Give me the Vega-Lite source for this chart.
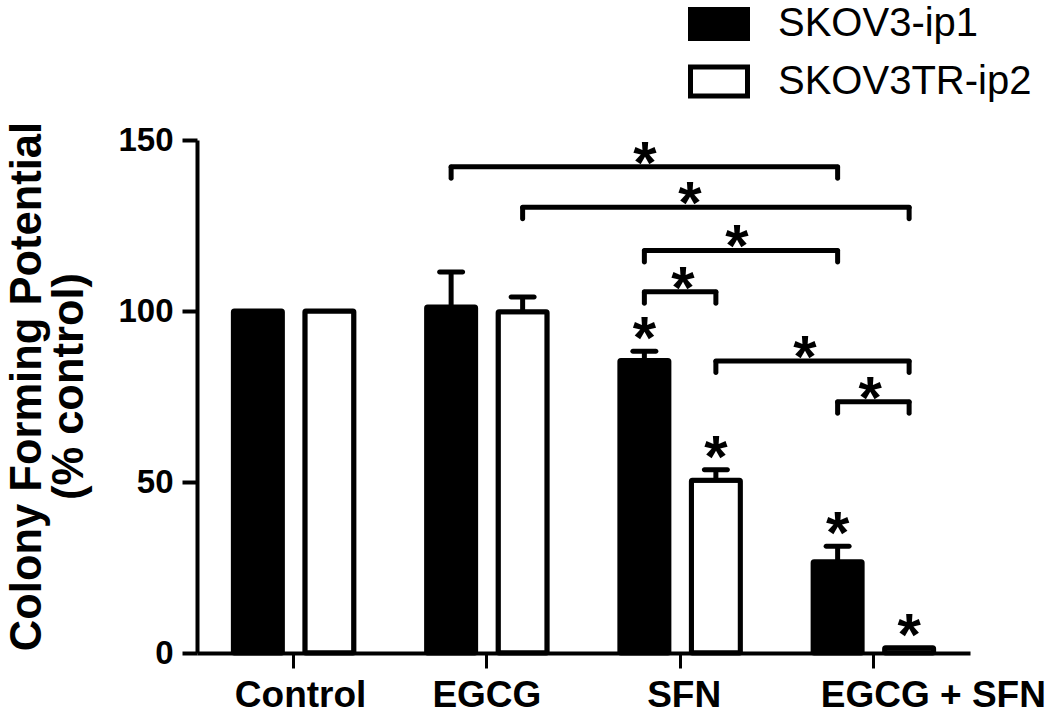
{
  "$schema": "https://vega.github.io/schema/vega-lite/v6.json",
  "width": 773,
  "height": 513,
  "autosize": {"type": "none"},
  "padding": {"left": 197, "top": 140, "right": 80, "bottom": 60},
  "background": "white",
  "config": {
    "view": {"stroke": null},
    "font": "Liberation Sans",
    "axis": {"grid": false}
  },
  "datasets": {
    "bars": [
      {"group": "Control", "series": "SKOV3-ip1", "value": 100, "upper": 100, "star": ""},
      {"group": "Control", "series": "SKOV3TR-ip2", "value": 100, "upper": 100, "star": ""},
      {"group": "EGCG", "series": "SKOV3-ip1", "value": 101.2, "upper": 111.4, "star": ""},
      {"group": "EGCG", "series": "SKOV3TR-ip2", "value": 99.8, "upper": 104.1, "star": ""},
      {"group": "SFN", "series": "SKOV3-ip1", "value": 85.5, "upper": 88.2, "star": "*"},
      {"group": "SFN", "series": "SKOV3TR-ip2", "value": 50.5, "upper": 53.6, "star": "*"},
      {"group": "EGCG + SFN", "series": "SKOV3-ip1", "value": 26.7, "upper": 31.2, "star": "*"},
      {"group": "EGCG + SFN", "series": "SKOV3TR-ip2", "value": 1.5, "upper": 1.5, "star": "*"}
    ],
    "brackets": [
      {"id": 1, "g1": "EGCG", "s1": "SKOV3-ip1", "g2": "EGCG + SFN", "s2": "SKOV3-ip1", "pair": "bb", "level": 142.2, "star_at": "SFN"},
      {"id": 2, "g1": "EGCG", "s1": "SKOV3TR-ip2", "g2": "EGCG + SFN", "s2": "SKOV3TR-ip2", "pair": "ww", "level": 130.3, "star_at": "SFN"},
      {"id": 3, "g1": "SFN", "s1": "SKOV3-ip1", "g2": "EGCG + SFN", "s2": "SKOV3-ip1", "pair": "bb", "level": 117.7, "star_at": "SFN"},
      {"id": 4, "g1": "SFN", "s1": "SKOV3-ip1", "g2": "SFN", "s2": "SKOV3TR-ip2", "pair": "bw", "level": 105.6, "star_at": "SFN"},
      {"id": 5, "g1": "SFN", "s1": "SKOV3TR-ip2", "g2": "EGCG + SFN", "s2": "SKOV3TR-ip2", "pair": "ww", "level": 85.4, "star_at": "EGCG + SFN"},
      {"id": 6, "g1": "EGCG + SFN", "s1": "SKOV3-ip1", "g2": "EGCG + SFN", "s2": "SKOV3TR-ip2", "pair": "bw", "level": 73.5, "star_at": "EGCG + SFN"}
    ]
  },
  "layer": [
    {
      "data": {"name": "bars"},
      "mark": {"type": "bar", "stroke": "black", "strokeWidth": 5, "strokeJoin": "round", "opacity": 1, "cornerRadius": 1},
      "encoding": {
        "x": {
          "field": "group", "type": "nominal", "sort": null,
          "scale": {"domain": ["Control", "EGCG", "SFN", "EGCG + SFN"], "paddingInner": 0, "paddingOuter": 0},
          "axis": {
            "title": null,
            "labelAngle": 0,
            "labelLimit": 500,
            "labelFont": "Liberation Sans", "labelFontSize": 37, "labelFontWeight": "bold", "labelColor": "black",
            "labelPadding": 9,
            "labelOffset": {"condition": [
              {"test": "datum.value === 'EGCG + SFN'", "value": 60},
              {"test": "datum.value === 'Control'", "value": 7},
              {"test": "datum.value === 'SFN'", "value": 4}
            ], "value": 0},
            "tickSize": 15, "tickWidth": 3, "tickColor": "black",
            "domainColor": "black", "domainWidth": 4
          }
        },
        "xOffset": {
          "field": "series", "type": "nominal",
          "scale": {"domain": ["SKOV3-ip1", "SKOV3TR-ip2"], "paddingInner": 0.3146, "paddingOuter": 0.5086}
        },
        "y": {
          "field": "value", "type": "quantitative",
          "scale": {"domain": [0, 150], "nice": false, "zero": true},
          "axis": {
            "title": ["Colony Forming Potential", "(% control)"],
            "values": [0, 50, 100, 150],
            "labelFont": "Liberation Sans", "labelFontSize": 33, "labelFontWeight": "bold", "labelColor": "black",
            "labelPadding": 9,
            "tickSize": 15, "tickWidth": 4, "tickColor": "black",
            "domainColor": "black", "domainWidth": 4,
            "titleFont": "Liberation Sans", "titleFontSize": 43.5, "titleFontWeight": "bold", "titleColor": "black",
            "titleAngle": -90, "titleX": -157, "titleY": 246, "titleAlign": "center", "titleBaseline": "alphabetic",
            "titleLineHeight": 42
          }
        },
        "fill": {
          "field": "series", "type": "nominal",
          "scale": {"domain": ["SKOV3-ip1", "SKOV3TR-ip2"], "range": ["black", "white"]},
          "legend": {
            "orient": "none", "legendX": 491, "legendY": -147, "title": null, "padding": 0,
            "labelFont": "Liberation Sans", "labelFontSize": 40, "labelColor": "black", "labelOffset": 28, "labelLimit": 400,
            "symbolType": "M-1,-0.509H1V0.509H-1Z", "symbolSize": 3249,
            "symbolStrokeWidth": 5, "symbolStrokeColor": "black", "symbolOpacity": 1,
            "rowPadding": 1.5
          }
        }
      }
    },
    {
      "data": {"name": "bars"},
      "transform": [{"filter": "datum.upper > datum.value"}],
      "mark": {"type": "rule", "strokeWidth": 5, "color": "black"},
      "encoding": {
        "x": {"field": "group", "type": "nominal"},
        "xOffset": {"field": "series", "type": "nominal"},
        "y": {"field": "value", "type": "quantitative"},
        "y2": {"field": "upper"}
      }
    },
    {
      "data": {"name": "bars"},
      "transform": [{"filter": "datum.upper > datum.value"}],
      "mark": {"type": "tick", "orient": "horizontal", "size": 28, "thickness": 5, "color": "black", "opacity": 1, "cornerRadius": 2.5},
      "encoding": {
        "x": {"field": "group", "type": "nominal"},
        "xOffset": {"field": "series", "type": "nominal"},
        "y": {"field": "upper", "type": "quantitative"}
      }
    },
    {
      "data": {"name": "bars"},
      "mark": {"type": "text", "font": "Liberation Sans", "fontWeight": "bold", "fontSize": 60, "baseline": "alphabetic", "align": "center", "dy": 7, "color": "black"},
      "encoding": {
        "x": {"field": "group", "type": "nominal"},
        "xOffset": {"field": "series", "type": "nominal"},
        "y": {"field": "upper", "type": "quantitative"},
        "text": {"field": "star"}
      }
    },
    {
      "data": {"name": "brackets"},
      "transform": [{"filter": "datum.pair === 'bb'"}],
      "mark": {"type": "rule", "strokeWidth": 5, "color": "black", "strokeCap": "round"},
      "encoding": {
        "x": {"field": "g1", "type": "nominal", "bandPosition": 0.315},
        "x2": {"field": "g2", "bandPosition": 0.315},
        "y": {"field": "level", "type": "quantitative"}
      }
    },
    {
      "data": {"name": "brackets"},
      "transform": [{"filter": "datum.pair === 'ww'"}],
      "mark": {"type": "rule", "strokeWidth": 5, "color": "black", "strokeCap": "round"},
      "encoding": {
        "x": {"field": "g1", "type": "nominal", "bandPosition": 0.685},
        "x2": {"field": "g2", "bandPosition": 0.685},
        "y": {"field": "level", "type": "quantitative"}
      }
    },
    {
      "data": {"name": "brackets"},
      "transform": [{"filter": "datum.pair === 'bw'"}],
      "mark": {"type": "rule", "strokeWidth": 5, "color": "black", "strokeCap": "round"},
      "encoding": {
        "x": {"field": "g1", "type": "nominal", "bandPosition": 0.315},
        "x2": {"field": "g2", "bandPosition": 0.685},
        "y": {"field": "level", "type": "quantitative"}
      }
    },
    {
      "data": {"name": "brackets"},
      "mark": {"type": "tick", "orient": "vertical", "size": 16, "thickness": 5, "color": "black", "opacity": 1, "cornerRadius": 2.5, "yOffset": 6},
      "encoding": {
        "x": {"field": "g1", "type": "nominal"},
        "xOffset": {"field": "s1", "type": "nominal"},
        "y": {"field": "level", "type": "quantitative"}
      }
    },
    {
      "data": {"name": "brackets"},
      "mark": {"type": "tick", "orient": "vertical", "size": 16, "thickness": 5, "color": "black", "opacity": 1, "cornerRadius": 2.5, "yOffset": 6},
      "encoding": {
        "x": {"field": "g2", "type": "nominal"},
        "xOffset": {"field": "s2", "type": "nominal"},
        "y": {"field": "level", "type": "quantitative"}
      }
    },
    {
      "data": {"name": "brackets"},
      "transform": [{"filter": "datum.id === 1"}],
      "mark": {"type": "text", "text": "*", "font": "Liberation Sans", "fontWeight": "bold", "fontSize": 60, "baseline": "alphabetic", "align": "center", "dy": 16, "color": "black"},
      "encoding": {
        "x": {"field": "star_at", "type": "nominal", "bandPosition": 0.318},
        "y": {"field": "level", "type": "quantitative"}
      }
    },
    {
      "data": {"name": "brackets"},
      "transform": [{"filter": "datum.id === 2"}],
      "mark": {"type": "text", "text": "*", "font": "Liberation Sans", "fontWeight": "bold", "fontSize": 60, "baseline": "alphabetic", "align": "center", "dy": 16, "color": "black"},
      "encoding": {
        "x": {"field": "star_at", "type": "nominal", "bandPosition": 0.551},
        "y": {"field": "level", "type": "quantitative"}
      }
    },
    {
      "data": {"name": "brackets"},
      "transform": [{"filter": "datum.id === 3"}],
      "mark": {"type": "text", "text": "*", "font": "Liberation Sans", "fontWeight": "bold", "fontSize": 60, "baseline": "alphabetic", "align": "center", "dy": 16, "color": "black"},
      "encoding": {
        "x": {"field": "star_at", "type": "nominal", "bandPosition": 0.794},
        "y": {"field": "level", "type": "quantitative"}
      }
    },
    {
      "data": {"name": "brackets"},
      "transform": [{"filter": "datum.id === 4"}],
      "mark": {"type": "text", "text": "*", "font": "Liberation Sans", "fontWeight": "bold", "fontSize": 60, "baseline": "alphabetic", "align": "center", "dy": 16, "color": "black"},
      "encoding": {
        "x": {"field": "star_at", "type": "nominal", "bandPosition": 0.515},
        "y": {"field": "level", "type": "quantitative"}
      }
    },
    {
      "data": {"name": "brackets"},
      "transform": [{"filter": "datum.id === 5"}],
      "mark": {"type": "text", "text": "*", "font": "Liberation Sans", "fontWeight": "bold", "fontSize": 60, "baseline": "alphabetic", "align": "center", "dy": 16, "color": "black"},
      "encoding": {
        "x": {"field": "star_at", "type": "nominal", "bandPosition": 0.146},
        "y": {"field": "level", "type": "quantitative"}
      }
    },
    {
      "data": {"name": "brackets"},
      "transform": [{"filter": "datum.id === 6"}],
      "mark": {"type": "text", "text": "*", "font": "Liberation Sans", "fontWeight": "bold", "fontSize": 60, "baseline": "alphabetic", "align": "center", "dy": 16, "color": "black"},
      "encoding": {
        "x": {"field": "star_at", "type": "nominal", "bandPosition": 0.483},
        "y": {"field": "level", "type": "quantitative"}
      }
    }
  ]
}
